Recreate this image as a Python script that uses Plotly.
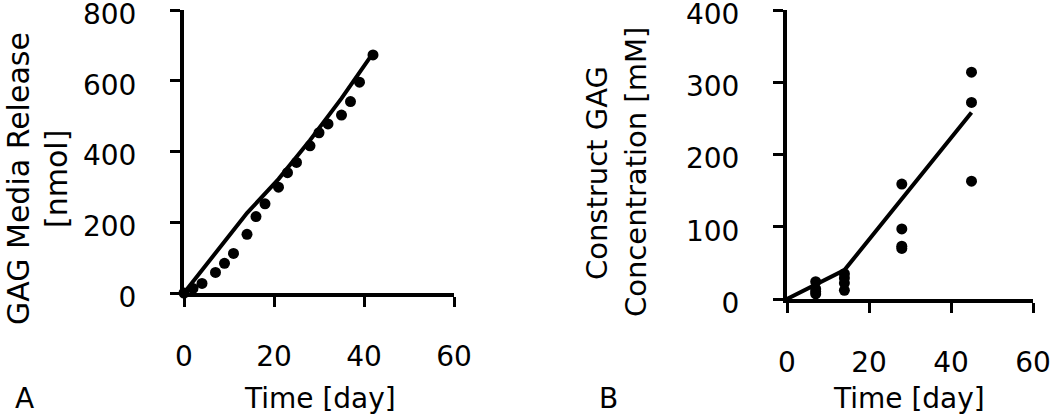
import plotly.graph_objects as go

# Panel A: GAG media release (points) and model line
a_days = [0, 2, 4, 7, 9, 11, 14, 16, 18, 21, 23, 25, 28, 30, 32, 35, 37, 39, 42]
a_vals = [0, 13, 27, 58, 84, 112, 166, 216, 252, 299, 340, 369, 416, 453, 478, 503, 541, 596, 673]
a_line_days = [0, 7, 14, 21, 28, 35, 42]
a_line_vals = [0, 112, 226, 322, 432, 550, 678]

# Panel B: construct GAG concentration (replicates) and model line
b_days = [7, 7, 7, 7, 14, 14, 14, 14, 28, 28, 28, 28, 45, 45, 45]
b_vals = [24, 14, 10, 7, 35, 29, 22, 12, 159, 97, 73, 70, 314, 272, 163]
b_line_days = [0, 14, 45]
b_line_vals = [0, 40, 258]

x_ticks = [0, 20, 40, 60]
a_y_ticks = [0, 200, 400, 600, 800]
b_y_ticks = [0, 100, 200, 300, 400]

FONT = "DejaVu Sans, Liberation Sans, Arial, sans-serif"
FS = 28
W, H = 1050, 415

def px(x):
    return x / W

def py(y):
    return 1 - y / H

fig = go.Figure()
fig.add_trace(go.Scatter(x=a_line_days, y=a_line_vals, mode="lines",
                         line=dict(color="black", width=4), cliponaxis=False,
                         xaxis="x", yaxis="y", showlegend=False))
fig.add_trace(go.Scatter(x=a_days, y=a_vals, mode="markers",
                         marker=dict(color="black", size=11), cliponaxis=False,
                         xaxis="x", yaxis="y", showlegend=False))
fig.add_trace(go.Scatter(x=b_line_days, y=b_line_vals, mode="lines",
                         line=dict(color="black", width=4), cliponaxis=False,
                         xaxis="x2", yaxis="y2", showlegend=False))
fig.add_trace(go.Scatter(x=b_days, y=b_vals, mode="markers",
                         marker=dict(color="black", size=11), cliponaxis=False,
                         xaxis="x2", yaxis="y2", showlegend=False))

axis_common = dict(showgrid=False, zeroline=False, showline=True, linecolor="black",
                   linewidth=4, ticks="outside", ticklen=10, tickwidth=3,
                   tickcolor="black", ticklabeloverflow="allow", automargin=False,
                   tickfont=dict(family=FONT, size=FS, color="black"))

fig.update_layout(
    width=W, height=H, margin=dict(l=0, r=0, t=0, b=0, autoexpand=False),
    paper_bgcolor="white", plot_bgcolor="white",
    xaxis=dict(domain=[px(184), px(454)], range=[0, 60], tickvals=x_ticks,
               anchor="y", ticklabelstandoff=25, **axis_common),
    yaxis=dict(domain=[py(293), py(10)], range=[0, 800], tickvals=a_y_ticks,
               anchor="x", ticklabelstandoff=28, ticklabelshift=4, **axis_common),
    xaxis2=dict(domain=[px(787), px(1033)], range=[0, 60], tickvals=x_ticks,
                anchor="y2", ticklabelstandoff=25, **axis_common),
    yaxis2=dict(domain=[py(299), py(10)], range=[0, 400], tickvals=b_y_ticks,
                anchor="x2", ticklabelstandoff=28, ticklabelshift=4, **axis_common),
)

def ann(text, x, y, angle=0, size=FS):
    fig.add_annotation(text=text, x=px(x), y=py(y), xref="paper", yref="paper",
                       showarrow=False, textangle=angle, xanchor="center", yanchor="middle",
                       font=dict(family=FONT, size=size, color="black"))

ann("GAG Media Release", 18, 179, -90, 30)
ann("[nmol]", 56, 179, -90, 30)
ann("Construct GAG", 597, 173, -90, 29)
ann("Concentration [mM]", 636, 172, -90, 29)
ann("Time [day]", 320, 398)
ann("Time [day]", 909, 398)
ann("A", 24, 398)
ann("B", 608, 398)

fig.write_html("out.html", config={"displayModeBar": False},
               post_script="document.body.style.margin='0px';document.body.style.overflow='hidden';")
